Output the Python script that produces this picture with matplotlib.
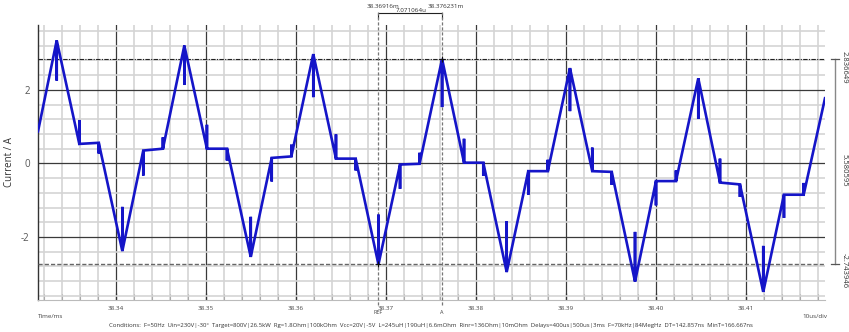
import numpy as np
import matplotlib
matplotlib.use('Agg')
import matplotlib.pyplot as plt
import matplotlib.transforms as mtransforms
from matplotlib.ticker import FixedLocator, FormatStrFormatter

matplotlib.rcParams['font.family'] = ['Open Sans', 'DejaVu Sans']

# inductor current corners: time in ms, current in A
t_knot = [38.33133, 38.33341, 38.33592, 38.33808, 38.34070, 38.34303, 38.34521,
          38.34759, 38.35010, 38.35233, 38.35497, 38.35730, 38.35948, 38.36192,
          38.36444, 38.36663, 38.36916, 38.37156, 38.37373, 38.376231, 38.37867,
          38.38081, 38.38341, 38.38581, 38.38798, 38.39044, 38.39292, 38.39508,
          38.39767, 38.40000, 38.40222, 38.40470, 38.40711, 38.40933, 38.41192,
          38.41422, 38.41641, 38.41878]
i_knot = [0.87, 3.34, 0.53, 0.56, -2.38, 0.35, 0.40,
          3.20, 0.40, 0.40, -2.54, 0.15, 0.19, 2.97,
          0.13, 0.13, -2.743946, -0.03, -0.01, 2.836649, 0.02,
          0.02, -2.95, -0.21, -0.21, 2.59, -0.21, -0.23,
          -3.21, -0.48, -0.48, 2.31, -0.52, -0.57, -3.49,
          -0.85, -0.85, 1.77]
# tip of the switching spike at each corner (nan = no spike)
i_spike = [np.nan, 2.25, 1.18, 0.27, -1.18, -0.33, 0.71,
           2.13, 1.05, 0.08, -1.45, -0.49, 0.51, 1.80,
           0.79, -0.19, -1.39, -0.69, 0.29, 1.53, 0.67,
           -0.33, -1.57, -0.85, 0.10, 1.42, 0.43, -0.58,
           -1.86, -1.14, -0.19, 1.21, 0.13, -0.91, -2.24,
           -1.48, -0.53, np.nan]

# cursors
t_ref, t_a = 38.36916, 38.376231
i_hi, i_lo = 2.836649, -2.743946
dt_label = "7.071064u"
di_label = "5.580595"

xmaj = [38.34, 38.35, 38.36, 38.37, 38.38, 38.39, 38.40, 38.41]
xmaj_labels = ["38.34", "38.35", "38.36", "38.37", "38.38", "38.39", "38.40", "38.41"]
ymaj = [-2, 0, 2]

conditions = ("Conditions:  F=50Hz  Uin=230V|-30°  Target=800V|26.5kW  Rg=1.8Ohm|100kOhm  "
              "Vcc=20V|-5V  L=245uH|190uH|6.6mOhm  Rinr=136Ohm|10mOhm  Delays=400us|500us|3ms  "
              "F=70kHz|84MegHz  DT=142.857ns  MinT=166.667ns")

t_path, i_path = [], []
for t, i, s in zip(t_knot, i_knot, i_spike):
    t_path.append(t)
    i_path.append(i)
    if not np.isnan(s):
        t_path += [t, t]
        i_path += [s, i]

W, H = 849, 332
fig = plt.figure(figsize=(W/100, H/100), dpi=100)
ax = fig.add_axes([38/W, 32/H, 787/W, 275/H])

def fx(px):
    return px/W

def fy(py):
    return 1 - py/H

ax.plot(t_path, i_path, color='#1515c8', lw=1.9, solid_joinstyle='miter', zorder=5)

ax.set_xlim(38.33133, 38.41878)
ax.set_ylim(-3.71, 3.76)

ax.xaxis.set_major_locator(FixedLocator(xmaj))
ax.xaxis.set_minor_locator(FixedLocator(np.round(np.arange(38.332, 38.419, 0.002), 3)))
ax.set_xticklabels(xmaj_labels)
ax.yaxis.set_major_locator(FixedLocator(ymaj))
ax.yaxis.set_minor_locator(FixedLocator(np.round(np.arange(-3.6, 3.7, 0.4), 1)))
ax.yaxis.set_major_formatter(FormatStrFormatter('%d'))

ax.grid(which='minor', color='#d4d4d4', lw=1.2, zorder=0)
ax.grid(which='major', color='#3a3a3a', lw=0.9, zorder=1)
ax.set_axisbelow(True)

for side in ['top', 'right']:
    ax.spines[side].set_visible(False)
ax.spines['left'].set_color('#333333')
ax.spines['left'].set_linewidth(1.0)
ax.spines['bottom'].set_color('#bbbbbb')
ax.spines['bottom'].set_linewidth(0.8)

ax.tick_params(axis='x', which='major', direction='in', length=5, width=0.9, color='#333333',
               labelsize=4.5, labelcolor='#444444', pad=4)
ax.tick_params(axis='x', which='minor', direction='in', length=4, width=0.8, color='#aaaaaa')
ax.tick_params(axis='y', which='both', length=0, labelsize=7, labelcolor='#555555', pad=6)

ax.set_ylabel("Current / A", fontsize=7, color='#333333', labelpad=4)

# horizontal cursors
ax.axhline(i_hi, color='#222222', lw=0.8, ls=(0, (4, 1.2, 1, 1.2)), zorder=3)
ax.axhline(i_lo, color='#666666', lw=1.0, ls=(0, (3, 1.5)), zorder=3)

# vertical cursors run past the plot area
trans_x = mtransforms.blended_transform_factory(ax.transData, ax.transAxes)
for tc in [t_ref, t_a]:
    ax.plot([tc, tc], [(300-305)/275, (300-12)/275], transform=trans_x, color='#777777',
            lw=0.9, ls=(0, (2.5, 1.5)), clip_on=False, zorder=3)
ax.plot([t_ref, t_a], [i_lo, i_hi], ls='none', marker='+', ms=4, mew=0.8, color='#111111', zorder=6)

# delta-t bracket on top
yb = (300-13)/275
ax.plot([t_ref, t_ref, t_a, t_a], [(300-18)/275, yb, yb, (300-18)/275], transform=trans_x,
        color='#222222', lw=0.8, clip_on=False)
fig.text(fx(367), fy(7), "38.36916m", fontsize=4.5, color='#333333', ha='left', va='center')
fig.text(fx(428), fy(7), "38.376231m", fontsize=4.5, color='#333333', ha='left', va='center')
fig.text(fx(411), fy(10.5), dt_label, fontsize=4.5, color='#333333', ha='center', va='center')

# delta-i bar on the right
trans_y = mtransforms.blended_transform_factory(ax.transAxes, ax.transData)
xr = (835-38)/787
ax.plot([xr, xr], [i_lo, i_hi], transform=trans_y, color='#888888', lw=1.0, clip_on=False)
for yv in [i_lo, i_hi]:
    ax.plot([xr - 4/787, xr + 4/787], [yv, yv], transform=trans_y, color='#555555', lw=0.9,
            clip_on=False)
fig.text(fx(844), fy(67), "2.836649", fontsize=5.5, color='#333333', rotation=270,
         ha='center', va='center')
fig.text(fx(844), fy(170), di_label, fontsize=5.5, color='#333333', rotation=270,
         ha='center', va='center')
fig.text(fx(844), fy(271), "-2.743946", fontsize=5.5, color='#333333', rotation=270,
         ha='center', va='center')

fig.text(fx(378), fy(313), "REF", fontsize=4, color='#444444', ha='center', va='center')
fig.text(fx(442), fy(313), "A", fontsize=4, color='#444444', ha='center', va='center')
fig.text(fx(38), fy(317), "Time/ms", fontsize=4.5, color='#444444', ha='left', va='center')
fig.text(fx(827), fy(317), "10us/div", fontsize=4.5, color='#444444', ha='right', va='center')
fig.text(fx(431), fy(325), conditions, fontsize=4.3, color='#333333', ha='center', va='center')

plt.savefig('out.png', dpi=100)
plt.close()
